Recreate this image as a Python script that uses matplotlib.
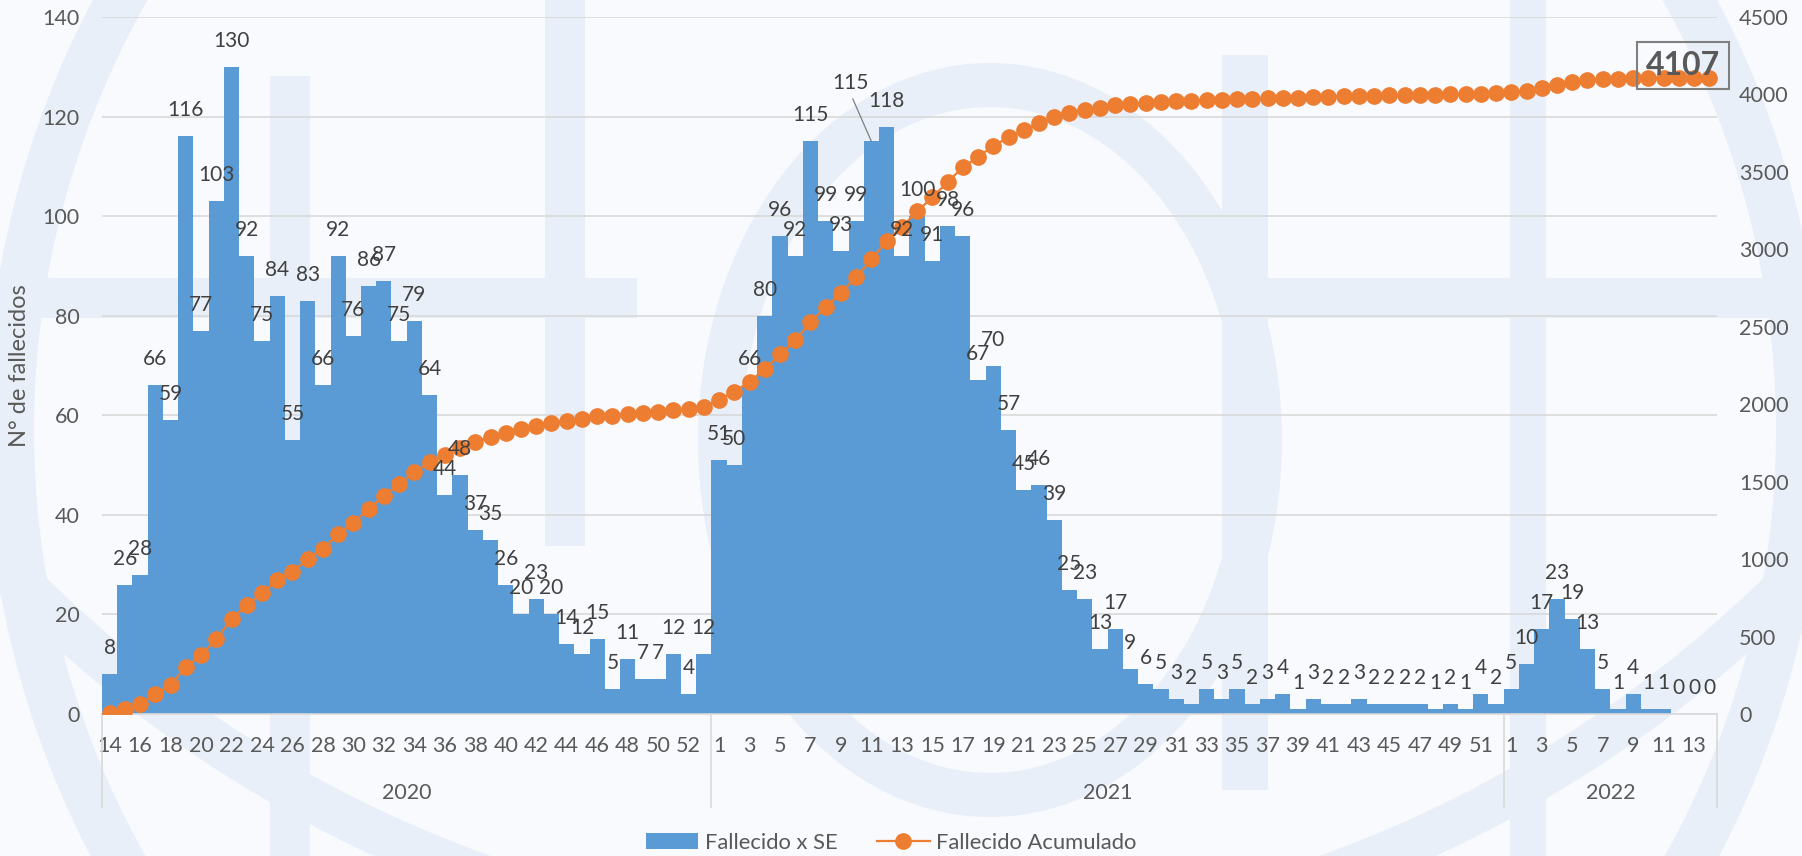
import numpy as np
import matplotlib.pyplot as plt
from matplotlib.lines import Line2D
from matplotlib.patches import Patch, Rectangle, Ellipse

plt.rcParams['font.family'] = ['Lato', 'DejaVu Sans']

# Semanas epidemiológicas
semanas_2020 = list(range(14, 54))
semanas_2021 = list(range(1, 53))
semanas_2022 = list(range(1, 15))

# Fallecidos por SE
fallecidos_2020 = [8, 26, 28, 66, 59, 116, 77, 103, 130, 92,
                   75, 84, 55, 83, 66, 92, 76, 86, 87, 75,
                   79, 64, 44, 48, 37, 35, 26, 20, 23, 20,
                   14, 12, 15, 5, 11, 7, 7, 12, 4, 12]
fallecidos_2021 = [51, 50, 66, 80, 96, 92, 115, 99, 93, 99,
                   115, 118, 92, 100, 91, 98, 96, 67, 70, 57,
                   45, 46, 39, 25, 23, 13, 17, 9, 6, 5,
                   3, 2, 5, 3, 5, 2, 3, 4, 1, 3,
                   2, 2, 3, 2, 2, 2, 2, 1, 2, 1,
                   4, 2]
fallecidos_2022 = [5, 10, 17, 23, 19, 13, 5, 1, 4, 1, 1, 0, 0, 0]

# Fallecidos acumulados
acumulado_2020 = [8, 34, 62, 128, 187, 303, 380, 483, 613, 705,
                  780, 864, 919, 1002, 1068, 1160, 1236, 1322, 1409, 1484,
                  1563, 1627, 1671, 1719, 1756, 1791, 1817, 1837, 1860, 1880,
                  1894, 1906, 1921, 1926, 1937, 1944, 1951, 1963, 1967, 1979]
acumulado_2021 = [2030, 2080, 2146, 2226, 2322, 2414, 2529, 2628, 2721, 2820,
                  2935, 3053, 3145, 3245, 3336, 3434, 3530, 3597, 3667, 3724,
                  3769, 3815, 3854, 3879, 3902, 3915, 3932, 3941, 3947, 3952,
                  3955, 3957, 3962, 3965, 3970, 3972, 3975, 3979, 3980, 3983,
                  3985, 3987, 3990, 3992, 3994, 3996, 3998, 3999, 4001, 4002,
                  4006, 4008]
acumulado_2022 = [4013, 4023, 4040, 4063, 4082, 4095, 4100, 4101, 4105, 4106,
                  4107, 4107, 4107, 4107]

anios = ['2020', '2021', '2022']

semanas = semanas_2020 + semanas_2021 + semanas_2022
fallecidos = fallecidos_2020 + fallecidos_2021 + fallecidos_2022
acumulado = acumulado_2020 + acumulado_2021 + acumulado_2022
grupos = [len(semanas_2020), len(semanas_2021), len(semanas_2022)]
x = np.arange(len(semanas))

azul = '#5B9BD5'
naranja = '#ED7D31'
gris_texto = '#595959'
gris_label = '#404040'
gris_linea = '#D9D9D9'
fondo = '#F8FAFD'
marca_agua = '#E9EFF8'

W, H = 1802, 856
fig = plt.figure(figsize=(W / 100, H / 100), dpi=100)
fig.patch.set_facecolor(fondo)

# marca de agua (globo) en píxeles de la figura
bg = fig.add_axes([0, 0, 1, 1], zorder=-10)
bg.set_xlim(0, W)
bg.set_ylim(H, 0)
bg.axis('off')
px = 0.72  # puntos por píxel
for (x0, y0, w, h) in [(0, 278, 637, 40), (1234, 278, 568, 40),
                       (270, 76, 40, 780), (545, 0, 40, 546),
                       (1222, 55, 46, 735), (1510, 0, 36, 856)]:
    bg.add_patch(Rectangle((x0, y0), w, h, color=marca_agua, lw=0))
bg.add_patch(Ellipse((905, 430), 1790, 1790, fill=False, ec=marca_agua, lw=48 * px))
bg.add_patch(Ellipse((905, -300), 2500, 2500, fill=False, ec=marca_agua, lw=44 * px))
bg.add_patch(Ellipse((990, 440), 540, 710, fill=False, ec=marca_agua, lw=44 * px))

izq, der, arr, abj = 102, 1717, 17, 714
ax = fig.add_axes([izq / W, 1 - abj / H, (der - izq) / W, (abj - arr) / H])
ax.set_facecolor('none')
ax2 = ax.twinx()

# barras
ax.bar(x, fallecidos, width=1.0, color=azul, zorder=2)
ax.set_xlim(-0.5, len(x) - 0.5)
ax.set_ylim(0, 140)
ax.set_yticks(range(0, 141, 20))
ax.yaxis.grid(True, color=gris_linea, linewidth=1.2, zorder=0)
ax.set_axisbelow(True)
for s in ['top', 'left', 'right']:
    ax.spines[s].set_visible(False)
ax.spines['bottom'].set_color(gris_linea)
ax.spines['bottom'].set_linewidth(1.2)
ax.tick_params(axis='y', length=0, pad=16, labelsize=15.5, labelcolor=gris_texto)
ax.set_xticks(x[::2])
ax.set_xticklabels([str(s) for s in semanas[::2]])
ax.tick_params(axis='x', length=0, pad=16, labelsize=15.5, labelcolor=gris_texto)
fig.text(20 / W, 1 - 366 / H, 'N° de fallecidos', rotation=90, ha='center',
         va='center', fontsize=17, color=gris_texto)

# línea acumulada
ax2.plot(x, acumulado, color=naranja, linewidth=1.6, marker='o', markersize=11,
         zorder=3)
ax2.set_ylim(0, 4500)
ax2.set_yticks(range(0, 4501, 500))
for s in ['top', 'left', 'right', 'bottom']:
    ax2.spines[s].set_visible(False)
ax2.tick_params(axis='y', length=0, pad=16, labelsize=15.5, labelcolor=gris_texto)

# etiquetas de datos (encima de todo)
for i, v in enumerate(fallecidos):
    if i == 50:
        ax2.annotate(str(v), xy=(i, v), xycoords=ax.transData,
                     xytext=(-21, 58), textcoords='offset pixels',
                     ha='center', va='center', fontsize=15, color=gris_label,
                     arrowprops=dict(arrowstyle='-', color='#7F7F7F', lw=0.9,
                                     shrinkA=2, shrinkB=0, relpos=(0.5, 0.0)))
    else:
        ax2.annotate(str(v), xy=(i, v), xycoords=ax.transData,
                     xytext=(0, 26), textcoords='offset pixels',
                     ha='center', va='center', fontsize=15, color=gris_label)

ax2.annotate(str(acumulado[-1]), xy=(x[-1], acumulado[-1]), xytext=(-26, 12),
             textcoords='offset pixels', ha='center', va='center',
             fontsize=23, fontweight='bold', color=gris_texto,
             bbox=dict(boxstyle='square,pad=0.28', fc='none', ec='#7F7F7F', lw=1.5))

# eje de categorías en dos niveles
trans = ax.get_xaxis_transform()
bordes = np.concatenate([[0], np.cumsum(grupos)]) - 0.5
for b in bordes:
    ax.plot([b, b], [0, -0.133], transform=trans, color=gris_linea,
            linewidth=1.2, clip_on=False)
for k, anio in enumerate(anios):
    centro = (bordes[k] + bordes[k + 1]) / 2
    ax.text(centro, -0.113, anio, transform=trans, ha='center', va='center',
            fontsize=15.5, color=gris_texto)

handles = [Patch(facecolor=azul, edgecolor='none'),
           Line2D([0], [0], color=naranja, linewidth=1.6, marker='o', markersize=11)]
fig.legend(handles, ['Fallecido x SE', 'Fallecido Acumulado'], loc='center',
           bbox_to_anchor=(891 / W, 1 - 843 / H), ncol=2, frameon=False,
           fontsize=15.8, labelcolor=gris_texto, handlelength=2.4, handleheight=0.75,
           columnspacing=1.8, handletextpad=0.3, borderpad=0.1)

fig.savefig('out.png', dpi=100, facecolor=fig.get_facecolor())
